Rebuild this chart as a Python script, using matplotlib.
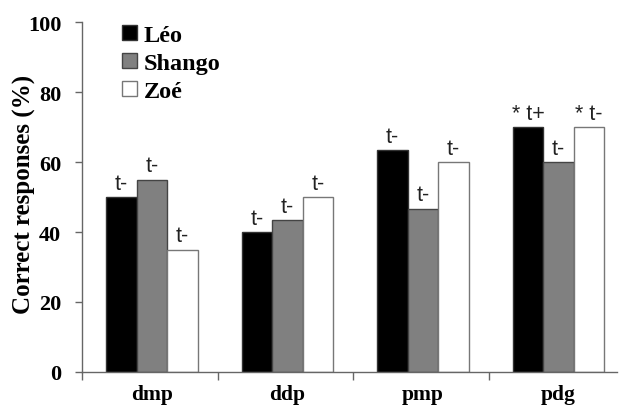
import matplotlib
matplotlib.use("Agg")
import matplotlib.pyplot as plt
import numpy as np

categories = ["dmp", "ddp", "pmp", "pdg"]
series_names = ["Léo", "Shango", "Zoé"]
leo = [50, 40, 63.3, 70]
shango = [55, 43.3, 46.7, 60]
zoe = [35, 50, 60, 70]
leo_labels = ["t-", "t-", "t-", "* t+"]
shango_labels = ["t-", "t-", "t-", "t-"]
zoe_labels = ["t-", "t-", "t-", "* t-"]
yticks = [0, 20, 40, 60, 80, 100]

values = [leo, shango, zoe]
labels = [leo_labels, shango_labels, zoe_labels]
colors = ["#000000", "#808080", "#ffffff"]
edges = ["#333333", "#444444", "#777777"]

fig = plt.figure(figsize=(6.19, 4.06), dpi=100)
ax = fig.add_axes([0.1325, 0.0813, 0.865, 0.862])

serif = "Liberation Serif"
sans = "Liberation Sans"

x = np.arange(len(categories))
w = 0.225
for i, (vals, labs) in enumerate(zip(values, labels)):
    pos = x + (i - 1) * w + 0.015
    ax.bar(pos, vals, width=w, color=colors[i], edgecolor=edges[i], linewidth=1.0,
           label=series_names[i], zorder=2)
    for p, v, t in zip(pos, vals, labs):
        ax.text(p, v + 0.9, t, ha="center", va="bottom", fontsize=15.5,
                family=sans, color="#222222")

ax.set_xlim(-0.5, 3.45)
ax.set_ylim(0, 100)
ax.set_yticks(yticks)
ax.set_yticklabels([str(t) for t in yticks], fontsize=16, fontweight="bold", family=serif)
ax.set_xticks(x + 0.015)
ax.set_xticklabels(categories, fontsize=15.5, fontweight="bold", family=serif)
ax.set_xticks(np.arange(-0.5, 3.5, 1.0), minor=True)
ax.tick_params(axis="x", which="major", length=0, pad=9)
ax.tick_params(axis="x", which="minor", length=6, color="#666666", width=1)
ax.tick_params(axis="y", length=5, color="#666666", width=1, pad=10)
ax.set_ylabel("Correct responses (%)", fontsize=18, fontweight="bold", family=serif)
ax.yaxis.set_label_coords(-0.086, 0.51)

for s in ["top", "right"]:
    ax.spines[s].set_visible(False)
for s in ["left", "bottom"]:
    ax.spines[s].set_color("#666666")
    ax.spines[s].set_linewidth(1.0)

leg = ax.legend(loc="upper left", bbox_to_anchor=(0.034, 1.055), frameon=False,
                prop={"family": serif, "weight": "bold", "size": 17.5},
                handlelength=0.6, handleheight=0.6, handletextpad=0.3, labelspacing=0.28)

fig.savefig("out.png", dpi=100)
